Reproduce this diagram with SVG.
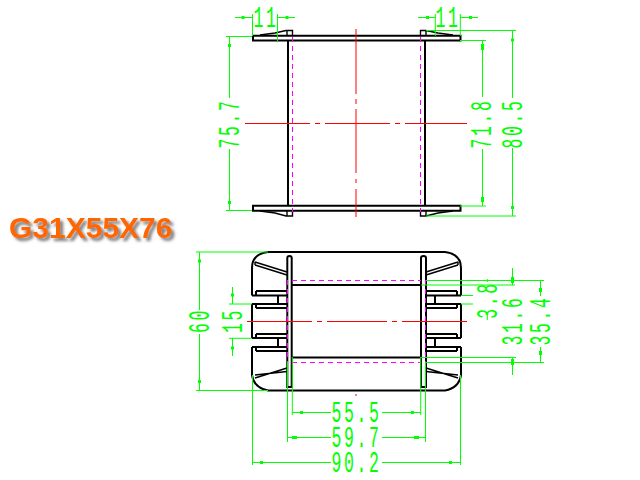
<svg xmlns="http://www.w3.org/2000/svg" width="640" height="480" viewBox="0 0 640 480">
<defs>
<filter id="sh" x="-10%" y="-30%" width="120%" height="170%"><feDropShadow dx="3" dy="3" stdDeviation="1.6" flood-color="#666" flood-opacity="0.85"/></filter>
</defs>
<style>
.k{fill:none;stroke:#000;stroke-width:2}
.t{fill:none;stroke:#000;stroke-width:1.4}
.r{fill:none;stroke:#f00;stroke-width:1}
.m{fill:none;stroke:#f0f;stroke-width:1;stroke-dasharray:5 4}
.g{fill:none;stroke:#0f0;stroke-width:1}
.b{fill:none;stroke:#0f0;stroke-width:3}
.d{font-family:"Liberation Mono",monospace;font-size:30px;letter-spacing:4.7px;fill:#0f0;text-anchor:middle}
.o{font-family:"Liberation Sans",Arial,sans-serif;font-weight:700;font-size:30px;fill:#ff6600}
</style>
<rect width="640" height="480" fill="#fff"/>
<g id="top-view">
<path class="k" d="M253 35.7H460.5V40.5H253V35.7ZM253 205.7H460.5V210.7H253V205.7Z"/>
<path class="k" d="M288 41V205M425 41V205"/>
<path class="t" d="M260 35 275 33 286 30.5H292.5V36M287 31V36M453 35 438 33 426 30.5H420.5V36M426 31V36"/>
<path class="t" d="M260 211 275 213 286 216H292.5V211M287 216V211M453 211 438 213 426 216H420.5V211M426 216V211"/>
<path class="m" d="M292.5 37V212M420.5 37V212"/>
<path class="r" d="M356 29V94M356 99V104M356 109V173M356 179V183M356 189V217M245 123.5H310M315 123.5H320M325 123.5H390M395 123.5H400M405 123.5H467"/>
</g>
<g id="bottom-view">
<path class="k" d="M268 252H445Q461 254 461 268V295.5M252 295.5V268Q252 254 268 252M252 295.5H287M256 291H287M256 291V295M252 304H287M256 308H287M256 304V308M278 295V304M252 304V338M252 338H287M256 334H287M256 334V338M278 338V347M252 347H287M256 351H287M256 347V351M252 347V375Q254 388 268 390.5H445Q459 388 461 375V347M461 338V304M461 295.5H426M457 291H426M457 291V295M461 304H426M457 308H426M457 304V308M435 295V304M461 338H426M457 334H426M457 334V338M435 338V347M461 347H426M457 351H426M457 347V351"/>
<path class="k" d="M287.3 387V258Q287.3 256 289.5 256Q291.7 256 291.7 258V387ZM421 387V258Q421 256 423.500 256Q426 256 426 258V387Z"/>
<path class="k" d="M292 285H421M292 357.500H421"/>
<path class="t" d="M255 262 287 272M255 265 287 275M255 262V265M255 378 287 368M255 375 287 371.500M458 262 426 272M458 265 426 275M458 262V265M458 378 426 368M458 375 426 371.500"/>
<path class="m" d="M287.500 280V362M425.500 280V362M292 280.500H421M292 362.500H421"/>
<path class="r" d="M356 394V396M247 321.500H312M317 321.500H322M327 321.500H387M392 321.500H397M402 321.500H467"/>
</g>
<g id="dimensions">
<path class="g" d="M252.500 14V36M277.500 14V41M235 17.500H252M277 17.500H295M435.300 14V36M460.300 14V36M418 17.500H435M460 17.500H478"/>
<path class="g" d="M226 36.500H252M229.500 36V98M229.500 149V210M226 210.500H252"/>
<path class="g" d="M460 40.500H486M482.500 40V97M482.500 149V206M460 206H486M426 30.500H516M512.500 30V98M512.500 148V216M426 216H516"/>
<path class="g" d="M196 252H268M196 390.500H268M199.500 252V310M199.500 334V390M232.500 287V304M229 304H252M229 338.300H252M232.500 338V356"/>
<path class="g" d="M426 280.500H544M421 285H515M461 295.500H473M461 304H473M421 357.500H516M425 362.500H544M487.300 279V282M487.300 315V320M512.500 268V285M512.500 357V375M540.500 280V296M540.500 347V362"/>
<path class="g" d="M292.300 357V415M420.700 357V415M292 412.500H331M382 412.500H421M287.500 362V442M425.500 362V442M288 437.500H331M382 437.500H425M252.500 375V465M460.500 375V465M252.500 462.500H331M382 462.500H460.500"/>
<path class="b" d="M241.500 17.500H244.500M285.500 17.500H288.500M426 17.500H429M469 17.500H472M229.500 44V47M229.500 201V204M482.500 44V50M482.500 197V202M512.500 38.500V41.500M512.500 206V209M199.500 259.500V262.500M199.500 380V383M232.500 293.500V296.500M232.500 346.500V349.500M512.500 277V283M512.500 359V365M540.500 288V292M540.500 351V355M300 412.500H303M411 412.500H414M292 437.500H297M414 437.500H419M260 462.500H263M449 462.500H452"/>
<g class="d">
<text transform="translate(266 27) scale(.55 1)">11</text>
<text transform="translate(448 27) scale(.55 1)">11</text>
<text transform="translate(239 123.500) rotate(-90) scale(.55 1)">75.7</text>
<text transform="translate(491 123.500) rotate(-90) scale(.55 1)">71.8</text>
<text transform="translate(522 123.500) rotate(-90) scale(.55 1)">80.5</text>
<text transform="translate(209 320.500) rotate(-90) scale(.55 1)">60</text>
<text transform="translate(242 320.500) rotate(-90) scale(.55 1)">15</text>
<text transform="translate(497 300) rotate(-90) scale(.55 1)">3.8</text>
<text transform="translate(522 320.500) rotate(-90) scale(.55 1)">31.6</text>
<text transform="translate(550 320.500) rotate(-90) scale(.55 1)">35.4</text>
<text transform="translate(356.500 422) scale(.55 1)">55.5</text>
<text transform="translate(356.500 447) scale(.55 1)">59.7</text>
<text transform="translate(356.500 471.500) scale(.55 1)">90.2</text>
</g>
</g>
<g id="title"><text class="o" x="9" y="238" filter="url(#sh)">G31X55X76</text></g>
</svg>
